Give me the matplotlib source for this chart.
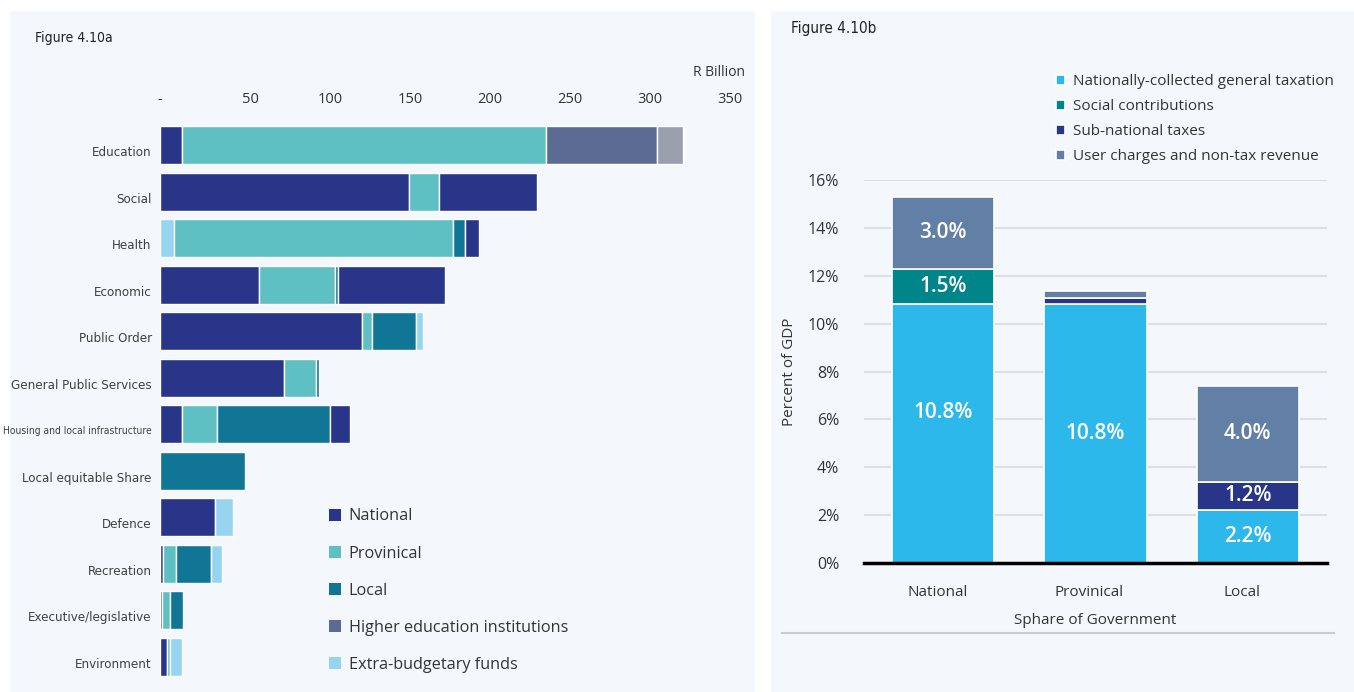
import matplotlib.pyplot as plt
import matplotlib.transforms as mtransforms
from matplotlib import font_manager as fm
from matplotlib.patches import Patch, Rectangle
from matplotlib.lines import Line2D

# ---- Figure 4.10a data (R billion, segments drawn left to right) ----
categories = ["Education", "Social", "Health", "Economic", "Public Order",
              "General Public Services", "Housing and local infrastructure",
              "Local equitable Share", "Defence", "Recreation",
              "Executive/legislative", "Environment"]
seg_values = [
    [13.8, 227.5, 69.4, 16.0],
    [155.6, 19.0, 61.2],
    [8.5, 174.5, 7.9, 8.5],
    [62.0, 47.6, 1.5, 67.0],
    [126.4, 5.8, 27.6, 4.8],
    [77.3, 20.0, 2.1],
    [13.6, 22.1, 70.6, 12.4],
    [53.0],
    [34.6, 11.0],
    [2.1, 7.9, 22.0, 6.7],
    [1.5, 5.0, 7.9],
    [4.6, 1.6, 7.4],
]
seg_kinds = [
    ["nat", "prov", "hei", "oth"],
    ["nat", "prov", "nat"],
    ["ebf", "prov", "loc", "nat"],
    ["nat", "prov", "loc", "nat"],
    ["nat", "prov", "loc", "ebf"],
    ["nat", "prov", "loc"],
    ["nat", "prov", "loc", "nat"],
    ["loc"],
    ["nat", "ebf"],
    ["nat", "prov", "loc", "ebf"],
    ["nat", "prov", "loc"],
    ["nat", "prov", "ebf"],
]
kind_names = {"nat": "National", "prov": "Provinical", "loc": "Local",
              "hei": "Higher education institutions", "ebf": "Extra-budgetary funds"}
kind_colors = {"nat": "#283588", "prov": "#5fc0c3", "loc": "#117595",
               "hei": "#5b6b93", "ebf": "#97d4f0", "oth": "#9a9ead"}
x_ticks = [0, 50, 100, 150, 200, 250, 300, 350]
x_labels = ["-", "50", "100", "150", "200", "250", "300", "350"]

# ---- Figure 4.10b data (percent of GDP) ----
spheres = ["National", "Provinical", "Local"]
general_tax = [10.8, 10.8, 2.2]
social_contrib = [1.5, 0.0, 0.0]
subnational_tax = [0.0, 0.25, 1.2]
user_charges = [3.0, 0.3, 4.0]

BG = "#f4f8fc"
TXT = "#333333"
W, H = 1354, 692


def find_narrow():
    # look for a condensed / narrow sans face among installed fonts
    best = None
    for f in fm.fontManager.ttflist:
        narrowish = ("Narrow" in f.name or "Condensed" in f.name or "ondensed" in f.fname
                     or "Narrow" in f.fname or f.stretch in ("condensed", "semi-condensed"))
        if not narrowish or f.style != "normal":
            continue
        if f.weight not in (400, "normal", "regular", "book"):
            continue
        rank = 0 if "Liberation" in f.name else 1 if "DejaVu" in f.name else 2
        if best is None or rank < best[0]:
            best = (rank, f.fname)
    return best[1] if best else None


narrow_file = find_narrow()


def narrow_fp(size):
    if narrow_file:
        return fm.FontProperties(fname=narrow_file, size=size)
    return fm.FontProperties(family="Liberation Sans", size=size * 0.86)


opensans = ["Open Sans", "DejaVu Sans"]

fig = plt.figure(figsize=(W / 100, H / 100), dpi=100)
fig.patch.set_facecolor("white")


def px(x0, y0, x1, y1):
    # pixel box (top-left origin) -> figure fraction rect
    return [x0 / W, 1 - y1 / H, (x1 - x0) / W, (y1 - y0) / H]


# panel backgrounds
fig.patches.append(Rectangle((10 / W, 0), 745 / W, 1 - 11 / H, transform=fig.transFigure,
                             facecolor=BG, edgecolor="none", zorder=-10))
fig.patches.append(Rectangle((771 / W, 0), 583 / W, 1 - 11 / H, transform=fig.transFigure,
                             facecolor=BG, edgecolor="none", zorder=-10))

# ================= left: stacked horizontal bars =================
ax = fig.add_axes(px(160, 122, 744, 680))
ax.set_facecolor("none")
for i, (vals, kinds) in enumerate(zip(seg_values, seg_kinds)):
    left = 0
    for v, k in zip(vals, kinds):
        ax.barh(i, v, left=left, height=0.82, color=kind_colors[k],
                edgecolor="white", linewidth=1.0)
        left += v
ax.set_xlim(0, 365)
ax.set_ylim(len(categories) - 0.5, -0.5)
for s in ax.spines.values():
    s.set_visible(False)
ax.set_yticks(range(len(categories)))
ax.set_yticklabels(categories, color="#404040")
ax.tick_params(axis="y", length=0, pad=6)
for j, lab in enumerate(ax.get_yticklabels()):
    lab.set_fontproperties(narrow_fp(7.4 if j == 6 else 9.5))
    lab.set_transform(lab.get_transform() +
                      mtransforms.ScaledTranslation(0, -6 / 100, fig.dpi_scale_trans))
ax.xaxis.tick_top()
ax.set_xticks(x_ticks)
ax.set_xticklabels(x_labels, family=opensans, fontsize=10.5, color=TXT)
ax.tick_params(axis="x", length=0, pad=11)
for j, lab in enumerate(ax.get_xticklabels()):
    if j > 0:
        lab.set_transform(lab.get_transform() +
                          mtransforms.ScaledTranslation(10 / 100, 0, fig.dpi_scale_trans))
fig.text(745 / W, 1 - 73 / H, "R Billion", ha="right", va="center",
         family=opensans, fontsize=10, color=TXT)
fig.text(35 / W, 1 - 38 / H, "Figure 4.10a", ha="left", va="center",
         fontproperties=narrow_fp(10), color="#222222")

handles = [Patch(facecolor=kind_colors[k], label=kind_names[k])
           for k in ["nat", "prov", "loc", "hei", "ebf"]]
fig.legend(handles=handles, loc="upper left", bbox_to_anchor=(322 / W, 1 - 502 / H),
           frameon=False, prop={"family": opensans, "size": 11.7},
           labelcolor=TXT, handlelength=0.75, handleheight=0.75,
           handletextpad=0.5, labelspacing=1.3, borderaxespad=0)

# ================= right: stacked vertical bars =================
bx = fig.add_axes(px(864, 180, 1327, 563))
bx.set_facecolor("none")
xs = range(len(spheres))
layers = [
    (general_tax, "#2db8eb", "Nationally-collected general taxation"),
    (social_contrib, "#00858a", "Social contributions"),
    (subnational_tax, "#283588", "Sub-national taxes"),
    (user_charges, "#627fa6", "User charges and non-tax revenue"),
]
bottom = [0.0] * len(spheres)
label_shift = {(0, 0): 0.9}
for li, (vals, col, name) in enumerate(layers):
    bx.bar(xs, vals, bottom=bottom, width=0.67, color=col, edgecolor="white",
           linewidth=1.2, label=name, zorder=3)
    for i, v in enumerate(vals):
        if v >= 1.0:
            y = bottom[i] + v / 2 + label_shift.get((i, li), 0)
            bx.text(i, y, f"{v:.1f}%", ha="center", va="center", color="white",
                    family=opensans, fontsize=15, fontweight="semibold", zorder=4)
    bottom = [b + v for b, v in zip(bottom, vals)]

bx.set_xlim(-0.52, 2.52)
bx.set_ylim(0, 16)
bx.set_yticks(range(0, 17, 2))
bx.set_yticklabels([f"{t}%" for t in range(0, 17, 2)], family=opensans,
                   fontsize=11.5, color=TXT)
bx.grid(axis="y", color="#dcdfe3", linewidth=1.5, zorder=0)
bx.set_axisbelow(True)
for s in ["top", "left", "right"]:
    bx.spines[s].set_visible(False)
bx.spines["bottom"].set_color("black")
bx.spines["bottom"].set_linewidth(2.5)
bx.spines["bottom"].set_zorder(5)
bx.tick_params(axis="both", length=0)
bx.tick_params(axis="y", pad=18)
bx.tick_params(axis="x", pad=16)
bx.set_xticks(list(xs))
bx.set_xticklabels(spheres, family=opensans, fontsize=11, color=TXT)
for lab in bx.get_xticklabels():
    lab.set_transform(lab.get_transform() +
                      mtransforms.ScaledTranslation(-6 / 100, 0, fig.dpi_scale_trans))
bx.set_xlabel("Sphare of Government", family=opensans, fontsize=11, color=TXT,
              labelpad=9)
bx.set_ylabel("Percent of GDP", family=opensans, fontsize=11, color=TXT, labelpad=8)
fig.text(791 / W, 1 - 29 / H, "Figure 4.10b", ha="left", va="center",
         fontproperties=narrow_fp(11), color="#222222")
fig.add_artist(Line2D([782 / W, 1334 / W], [1 - 633 / H, 1 - 633 / H],
                      transform=fig.transFigure, color="#c9cdd2", linewidth=1.5))

h, l = bx.get_legend_handles_labels()
fig.legend(h, l, loc="upper left", bbox_to_anchor=(1050 / W, 1 - 68 / H),
           frameon=False, prop={"family": opensans, "size": 11},
           labelcolor=TXT, handlelength=0.6, handleheight=0.6,
           handletextpad=0.5, labelspacing=0.66, borderaxespad=0)

fig.savefig("out.png", dpi=100, facecolor="white")
